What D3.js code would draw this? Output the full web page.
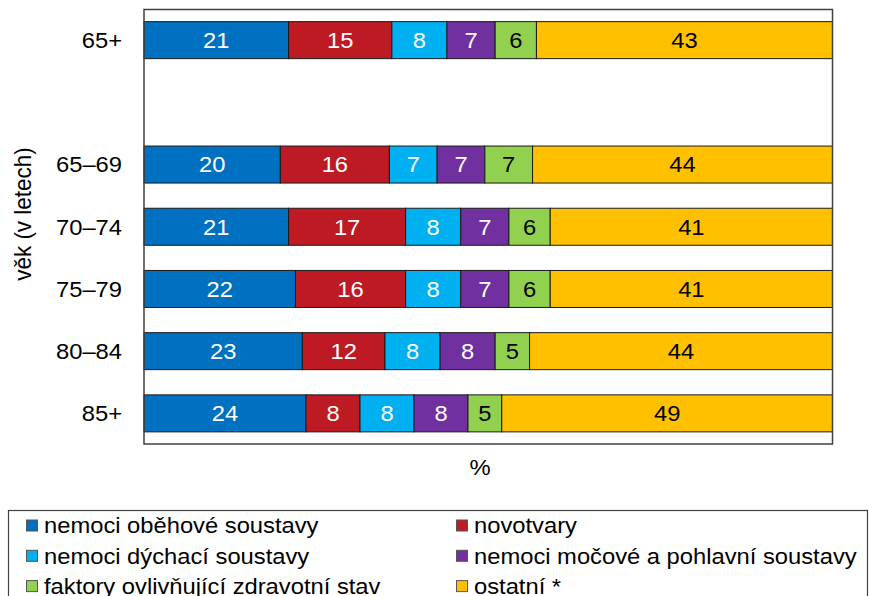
<!DOCTYPE html>
<meta charset="utf-8">
<style type="text/css">
	body { margin: 0; background: #fff; }
	text { font-family: "Liberation Sans", Arial, sans-serif; fill: #000; }
	.frame { fill: none; stroke: #404040; stroke-width: 1.5; }
	.seg { stroke: #1a1a1a; stroke-width: 1; }
	.tick { font-size: 22px; }
	.lbl { font-size: 22px; }
	.legend text { font-size: 22px; }
</style>
<svg width="869" height="596"></svg>
<script src="https://d3js.org/d3.v7.min.js"></script>
<script type="text/javascript">
	// age groups, "gap" is an empty slot between the total and the groups
	var ages = ["65+", "gap", "65–69", "70–74", "75–79", "80–84", "85+"];
	var rowAges = ["65+", "65–69", "70–74", "75–79", "80–84", "85+"];

	var seriesNames = ["nemoci oběhové soustavy", "novotvary", "nemoci dýchací soustavy",
		"nemoci močové a pohlavní soustavy", "faktory ovlivňující zdravotní stav", "ostatní *"];
	var seriesColors = ["#0070C0", "#BE1A24", "#00B0F0", "#7030A0", "#92D050", "#FFC000"];
	var labelColors = ["#fff", "#fff", "#fff", "#fff", "#000", "#000"];

	var obehove  = [21, 20, 21, 22, 23, 24];
	var novotvary = [15, 16, 17, 16, 12, 8];
	var dychaci  = [8, 7, 8, 8, 8, 8];
	var mocove   = [7, 7, 7, 7, 8, 8];
	var faktory  = [6, 7, 6, 6, 5, 5];
	var ostatni  = [43, 44, 41, 41, 44, 49];

	var svg = d3.select("svg"),
		mLeft = 144, mRight = 832.5, mTop = 9.5, mBottom = 444,
		sx = 1.08; // the source picture is a little stretched sideways

	var keys = d3.range(seriesNames.length).map(String);
	var cols = [obehove, novotvary, dychaci, mocove, faktory, ostatni];
	var table = rowAges.map(function(a, i){
		var r = {age: a};
		cols.forEach(function(c, j){ r[j] = c[i]; });
		return r;
	});

	var layers = d3.stack().keys(keys).offset(d3.stackOffsetExpand)(table);

	var x = d3.scaleLinear().domain([0, 1]).range([mLeft, mRight]);
	var y = d3.scaleBand().domain(ages).range([mTop, mBottom]).paddingInner(0.405).paddingOuter(0.195);

	function place(px, py){ return "translate(" + px + "," + py + ")scale(" + sx + ",1)"; }

	var g = svg.append("g");
	layers.forEach(function(layer, j){
		var lg = g.append("g");
		lg.selectAll("rect").data(layer).enter().append("rect")
			.attr("class", "seg")
			.attr("x", function(d){ return x(d[0]); })
			.attr("y", function(d){ return y(d.data.age); })
			.attr("width", function(d){ return x(d[1]) - x(d[0]); })
			.attr("height", y.bandwidth())
			.attr("fill", seriesColors[j]);
		lg.selectAll("text").data(layer).enter().append("text")
			.attr("class", "lbl")
			.attr("transform", function(d){ return place((x(d[0]) + x(d[1])) / 2, y(d.data.age) + y.bandwidth() / 2); })
			.attr("dy", "0.36em")
			.attr("text-anchor", "middle")
			.style("fill", labelColors[j])
			.text(function(d){ return d.data[j]; });
	});

	svg.append("rect").attr("class", "frame")
		.attr("x", mLeft).attr("y", mTop).attr("width", mRight - mLeft).attr("height", mBottom - mTop);

	// y axis: ticks only as labels
	svg.append("g").selectAll("text").data(ages.filter(function(a){ return a != "gap"; })).enter().append("text")
		.attr("class", "tick")
		.attr("transform", function(d){ return place(122, y(d) + y.bandwidth() / 2); })
		.attr("dy", "0.36em")
		.attr("text-anchor", "end")
		.text(function(d){ return d; });

	svg.append("text").attr("transform", "translate(31,214)rotate(-90)scale(1," + sx + ")")
		.attr("text-anchor", "middle").style("font-size", "22.5px").text("věk (v letech)");
	svg.append("text").attr("transform", place(480, 475))
		.attr("text-anchor", "middle").style("font-size", "22px").text("%");

	// legend
	var lgd = svg.append("g").attr("class", "legend");
	lgd.append("rect").attr("x", 8.5).attr("y", 510.5).attr("width", 859).attr("height", 100)
		.attr("fill", "none").attr("stroke", "#404040").attr("stroke-width", 1.2);
	var item = lgd.selectAll("g.item").data(seriesNames).enter().append("g")
		.attr("transform", function(d, i){ return "translate(" + (i % 2 ? 456 : 26) + "," + (525.5 + Math.floor(i / 2) * 30.3) + ")"; });
	item.append("rect").attr("x", 0.5).attr("y", -5.5).attr("width", 11).attr("height", 11)
		.attr("fill", function(d, i){ return seriesColors[i]; })
		.attr("stroke", "#555").attr("stroke-width", 1);
	item.append("text").attr("transform", place(18, 0)).attr("dy", "0.36em").text(function(d){ return d; });
</script>
